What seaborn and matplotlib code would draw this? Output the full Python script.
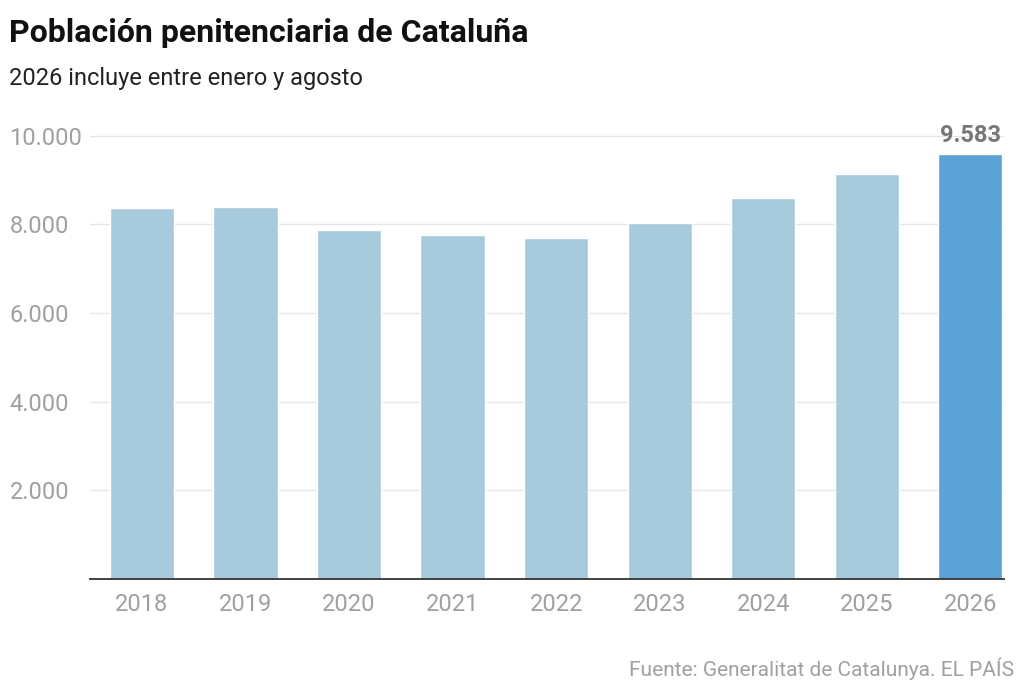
import matplotlib
matplotlib.use("Agg")
import matplotlib.pyplot as plt
import seaborn as sns
import pandas as pd

years = ["2018", "2019", "2020", "2021", "2022", "2023", "2024", "2025", "2026"]
values = [8360, 8390, 7870, 7750, 7700, 8040, 8600, 9140, 9583]
yticks = [2000, 4000, 6000, 8000, 10000]
ytick_labels = ["2.000", "4.000", "6.000", "8.000", "10.000"]

df = pd.DataFrame({"year": years, "value": values})
colors = ["#a8cadd"] * 8 + ["#5ba3d6"]

sns.set_style("white")
plt.rcParams["font.family"] = ["Roboto", "DejaVu Sans"]

fig = plt.figure(figsize=(10.24, 6.95), dpi=100)
ax = fig.add_axes([0.088, 0.167, 0.892, 0.657])
sns.barplot(data=df, x="year", y="value", hue="year", palette=colors,
            saturation=1, legend=False, width=0.62, ax=ax, zorder=2)

ax.set_ylim(0, 10300)
ax.set_yticks(yticks)
ax.set_yticklabels(ytick_labels)
ax.grid(axis="y", color="#e6e6e6", linewidth=1, zorder=0)
ax.set_axisbelow(True)
for s in ["top", "right", "left"]:
    ax.spines[s].set_visible(False)
ax.spines["bottom"].set_color("#333333")
ax.spines["bottom"].set_linewidth(1.3)
ax.tick_params(axis="both", length=0, colors="#a0a0a0", labelsize=17)
ax.tick_params(axis="x", pad=10)
ax.tick_params(axis="y", pad=58)
for lbl in ax.get_yticklabels():
    lbl.set_horizontalalignment("left")
ax.set_xlabel("")
ax.set_ylabel("")
ax.set_xlim(-0.5, 8.32)

ax.text(8, values[-1] + 150, "9.583", ha="center", va="bottom",
        fontsize=17, fontweight="bold", color="#777777")

fig.text(0.009, 0.953, "Población penitenciaria de Cataluña", fontsize=23,
         fontweight="bold", color="#111111", va="center")
fig.text(0.009, 0.887, "2026 incluye entre enero y agosto", fontsize=17,
         color="#222222", va="center")
fig.text(0.99, 0.038, "Fuente: Generalitat de Catalunya. EL PAÍS", fontsize=15,
         color="#a0a0a0", ha="right", va="center")

fig.savefig("out.png", dpi=100)
